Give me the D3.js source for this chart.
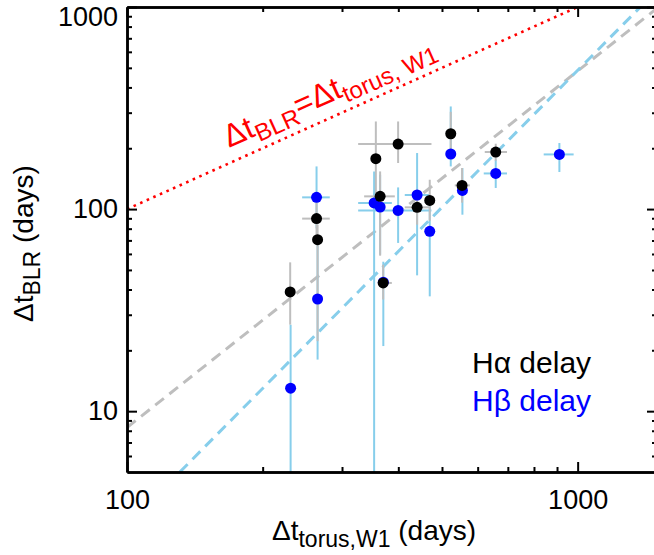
<!DOCTYPE html>
<html>
<head>
<meta charset="utf-8">
<script src="https://cdn.jsdelivr.net/npm/d3@7"></script>
<style>
  body { margin: 0; background: #fff; }
  text { font-family: "Liberation Sans", Arial, sans-serif; }
</style>
</head>
<body>
<div id="chart"></div>
<script>
// H-alpha lags (days)
var haTorus   = [230.2, 263.4, 264.8, 356.6, 364.5, 370.2, 399.6, 440.3, 469.7, 522.9, 554.0, 658.0];
var haBlr     = [38.9, 89.7, 70.6, 177.5, 115.6, 43.1, 209.8, 102.0, 110.4, 235.9, 131.0, 191.6];
var haBlrHi   = [54.5, 107.6, 83.7, 271.4, 153.6, 53.1, 271.4, 124.7, 139.7, 303, 159.7, 210.6];
var haBlrLo   = [26.8, 73.9, 22.2, 116.5, 58.8, 35.7, 169.0, 83.7, 87.6, 183.7, 107.6, 173.5];
var haTorusLo = [null, 244.7, null, null, 335.9, 360.3, 325.8, 413.4, null, null, 533.7, 622.1];
var haTorusHi = [null, 281.8, null, null, 392.9, 387.0, 473.8, 469.7, null, null, 576.1, 697.0];

// H-beta lags (days)
var hbTorus   = [230.7, 263.4, 264.8, 353.5, 364.5, 370.5, 399.6, 440.3, 469.7, 522.9, 555.0, 658.0, 910.9];
var hbBlr     = [13.0, 114.3, 35.9, 107.2, 102.4, 43.5, 98.5, 117.4, 77.6, 187.3, 123.7, 150.1, 186.4];
var hbBlrHi   = [26.8, 162.6, 66.7, 153.6, 147.9, 54.9, 128.0, 189.4, 105.1, 322, 159.7, 175.5, 212.3];
var hbBlrLo   = [1, 80.3, 18.0, 1, 59.5, 21.0, 68.0, 47.0, 37.0, 162.6, 93.8, 127.2, 152.6];
var hbTorusLo = [null, 244.7, null, 325.8, null, null, 325.8, 413.4, null, null, null, 618.9, 840.7];
var hbTorusHi = [null, 281.8, null, 387.0, null, null, 473.8, 468.1, null, null, null, 697.0, 979.7];

// reference lines (end points)
var oneToOneX = [100, 1000], oneToOneY = [100, 1000];
var grayFitX = [100, 1500], grayFitY = [8.3, 986];
var blueFitX = [131, 1378], blueFitY = [5, 1000];

var xMajor = [100, 1000];
var xMinor = [200, 300, 400, 500, 600, 700, 800, 900];
var yMajor = [10, 100, 1000];
var yMinor = [6, 7, 8, 9, 20, 30, 40, 50, 60, 70, 80, 90, 200, 300, 400, 500, 600, 700, 800, 900];

var W = 654, H = 555;
var mLeft = 127, mRight = 657, mTop = 7, mBottom = 472;

var svg = d3.select("#chart").append("svg")
    .attr("width", W).attr("height", H);

var x = d3.scaleLog().domain([100, 1500]).range([mLeft, mRight]);
var y = d3.scaleLog().domain([5, 1000]).range([mBottom, mTop]);

svg.append("clipPath").attr("id", "plotclip")
  .append("rect").attr("x", mLeft).attr("y", mTop)
  .attr("width", mRight - mLeft).attr("height", mBottom - mTop);

var plot = svg.append("g").attr("clip-path", "url(#plotclip)");

var line = d3.line().x(function (d) { return x(d[0]); }).y(function (d) { return y(d[1]); });

// reference lines
plot.append("path").datum(d3.zip(oneToOneX, oneToOneY))
    .attr("d", line).attr("fill", "none")
    .attr("stroke", "#ff0000").attr("stroke-width", 2.6)
    .attr("stroke-dasharray", "2.6,4.6");
plot.append("path").datum(d3.zip(grayFitX, grayFitY))
    .attr("d", line).attr("fill", "none")
    .attr("stroke", "#bebebe").attr("stroke-width", 3)
    .attr("stroke-dasharray", "11,7");
plot.append("path").datum(d3.zip(blueFitX, blueFitY))
    .attr("d", line).attr("fill", "none")
    .attr("stroke", "#87ceeb").attr("stroke-width", 3)
    .attr("stroke-dasharray", "11,7");

function errorBars(g, xs, ys, yLo, yHi, xLo, xHi, color) {
    xs.forEach(function (xv, i) {
        g.append("line")
            .attr("x1", x(xv)).attr("x2", x(xv))
            .attr("y1", y(yLo[i])).attr("y2", y(yHi[i]))
            .attr("stroke", color).attr("stroke-width", 2);
        if (xLo[i] != null) {
            g.append("line")
                .attr("x1", x(xLo[i])).attr("x2", x(xHi[i]))
                .attr("y1", y(ys[i])).attr("y2", y(ys[i]))
                .attr("stroke", color).attr("stroke-width", 2);
        }
    });
}

errorBars(plot, hbTorus, hbBlr, hbBlrLo, hbBlrHi, hbTorusLo, hbTorusHi, "#87ceeb");
errorBars(plot, haTorus, haBlr, haBlrLo, haBlrHi, haTorusLo, haTorusHi, "#bebebe");

plot.selectAll(".hb").data(d3.zip(hbTorus, hbBlr)).enter().append("circle")
    .attr("class", "hb")
    .attr("cx", function (d) { return x(d[0]); })
    .attr("cy", function (d) { return y(d[1]); })
    .attr("r", 5.5).attr("fill", "#0000ff");

plot.selectAll(".ha").data(d3.zip(haTorus, haBlr)).enter().append("circle")
    .attr("class", "ha")
    .attr("cx", function (d) { return x(d[0]); })
    .attr("cy", function (d) { return y(d[1]); })
    .attr("r", 5.5).attr("fill", "#000000");

// axes: ticks pointing inward on all four sides
function styleAxis(g) {
    g.selectAll("path").attr("stroke", "#000").attr("stroke-width", 2.5);
    g.selectAll("line").attr("stroke", "#000").attr("stroke-width", 2);
    g.selectAll("text").attr("fill", "#000").style("font-size", "27px")
        .style("font-family", "'Liberation Sans', Arial, sans-serif");
}

var fmt = function (d) { return String(d); };

svg.append("g").attr("transform", "translate(0," + mBottom + ")")
    .call(d3.axisBottom(x).tickValues(xMinor).tickSize(-5).tickFormat("").tickSizeOuter(0))
    .call(styleAxis);
svg.append("g").attr("transform", "translate(0," + mBottom + ")")
    .call(d3.axisBottom(x).tickValues(xMajor).tickSize(-10).tickPadding(18).tickFormat(fmt).tickSizeOuter(0))
    .call(styleAxis);

svg.append("g").attr("transform", "translate(0," + mTop + ")")
    .call(d3.axisTop(x).tickValues(xMinor).tickSize(-5).tickFormat("").tickSizeOuter(0))
    .call(styleAxis);
svg.append("g").attr("transform", "translate(0," + mTop + ")")
    .call(d3.axisTop(x).tickValues(xMajor).tickSize(-10).tickFormat("").tickSizeOuter(0))
    .call(styleAxis);

svg.append("g").attr("transform", "translate(" + mLeft + ",0)")
    .call(d3.axisLeft(y).tickValues(yMinor).tickSize(-5).tickFormat("").tickSizeOuter(0))
    .call(styleAxis);
var yAxisG = svg.append("g").attr("transform", "translate(" + mLeft + ",0)")
    .call(d3.axisLeft(y).tickValues(yMajor).tickSize(-10).tickPadding(9).tickFormat(fmt).tickSizeOuter(0))
    .call(styleAxis);
// keep the top label inside the frame, as in the original
yAxisG.selectAll(".tick text").filter(function (d) { return d === 1000; }).attr("dy", "0.68em");

svg.append("g").attr("transform", "translate(" + mRight + ",0)")
    .call(d3.axisRight(y).tickValues(yMinor).tickSize(-5).tickFormat("").tickSizeOuter(0))
    .call(styleAxis);
svg.append("g").attr("transform", "translate(" + mRight + ",0)")
    .call(d3.axisRight(y).tickValues(yMajor).tickSize(-10).tickFormat("").tickSizeOuter(0))
    .call(styleAxis);

// axis titles
var yt = svg.append("text")
    .attr("transform", "translate(33,322) rotate(-90)")
    .style("font-size", "28px");
yt.append("tspan").text("\u0394t");
yt.append("tspan").attr("dy", 7).style("font-size", "23px").text("BLR");
yt.append("tspan").attr("dy", -7).text(" (days)");

var xt = svg.append("text")
    .attr("x", 272).attr("y", 540)
    .style("font-size", "28px");
xt.append("tspan").text("\u0394t");
xt.append("tspan").attr("dy", 7).style("font-size", "23px").text("torus,W1");
xt.append("tspan").attr("dy", -7).text(" (days)");

// 1:1 line label
var angle = -Math.atan((y(100) - y(1000)) / (x(1000) - x(100))) * 180 / Math.PI;
var rl = svg.append("text")
    .attr("transform", "translate(229,148) rotate(" + angle + ")")
    .attr("fill", "#ff0000").style("font-size", "32px");
rl.append("tspan").text("\u0394t");
rl.append("tspan").attr("dy", 7).style("font-size", "24px").text("BLR");
rl.append("tspan").attr("dy", -7).text("=\u0394t");
rl.append("tspan").attr("dy", 7).style("font-size", "24px").text("torus, W1");

// legend
svg.append("text").attr("x", 472).attr("y", 373)
    .style("font-size", "30px").attr("fill", "#000").text("H\u03b1 delay");
svg.append("text").attr("x", 472).attr("y", 411)
    .style("font-size", "30px").attr("fill", "#0000ff").text("H\u03b2 delay");
</script>
</body>
</html>
